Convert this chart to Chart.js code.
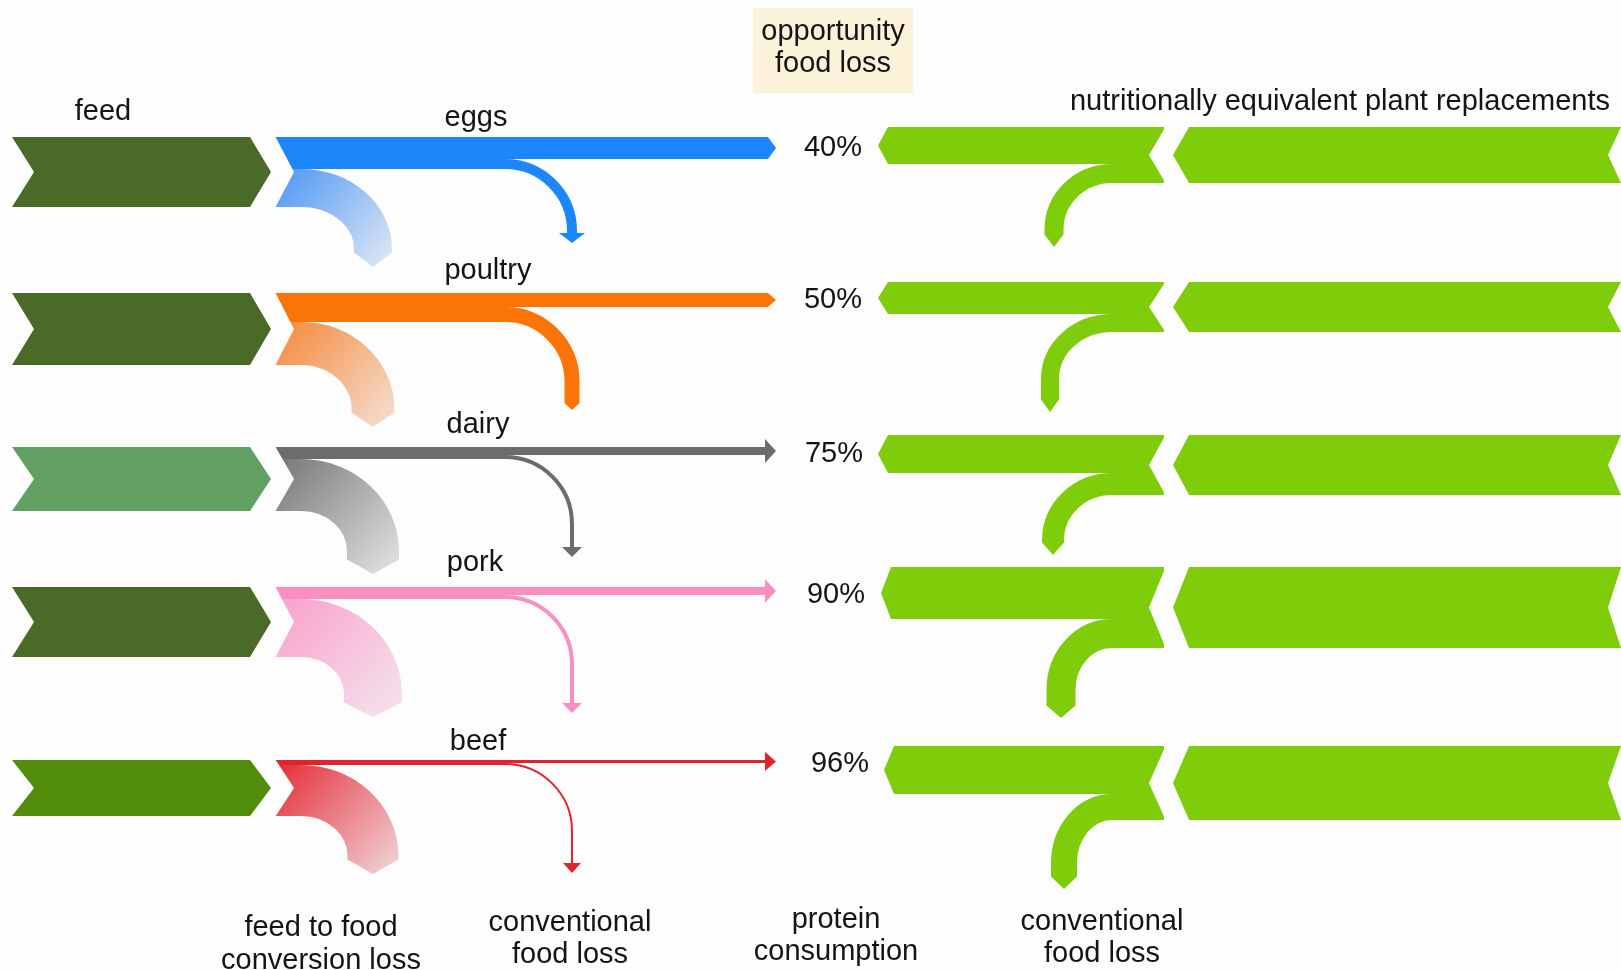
<!DOCTYPE html>
<html>
<head>
<meta charset="utf-8">
<title>Opportunity food loss</title>
<script src="https://cdn.jsdelivr.net/npm/chart.js@4.4.1/dist/chart.umd.min.js"></script>
<style>
  html, body { margin: 0; padding: 0; background: #fdfdfd; }
  #wrap { width: 1621px; height: 970px; position: relative; }
</style>
</head>
<body>
<div id="wrap"><canvas id="flowChart"></canvas></div>
<script>
// one row per animal product
const products = ['eggs', 'poultry', 'dairy', 'pork', 'beef'];
const opportunityLoss = [40, 50, 75, 90, 96]; // percent

// left side: feed splits into food, conventional food loss and conversion loss (flow widths)
const foodOut = [22, 14, 8, 8, 3];
const conventionalLoss = [10, 15, 4, 4, 2];
const conversionLoss = [38, 43, 52, 58, 51];

// right side: plant replacement splits into protein consumption and conventional loss
const plantConsumption = [37, 32, 38, 52, 48];
const plantLoss = [19, 18, 22, 29, 26];

const bottomLabels = [
  ['feed to food', 'conversion loss'],
  ['conventional', 'food loss'],
  ['protein', 'consumption'],
  ['conventional', 'food loss']
];

// layout, in diagram units (x 0..1621, y 0..970)
const layout = {
  leftTop: [137, 293, 447, 587, 760],
  rightTop: [127, 282, 435, 567, 746],
  labelX: [476, 488, 478, 475, 478],
  labelY: [118, 271, 425, 563, 742],
  pctX: [833, 833, 834, 836, 840],
  pctY: [148, 300, 454, 595, 764],
  lossEndY: [243, 410, 557, 713, 873],
  fanEndY: [253, 413, 560, 703, 860],
  plantLossX: [1054, 1050, 1053, 1061, 1064],
  plantLossEndY: [247, 412, 555, 718, 889],
  proteinTipX: [878, 878, 878, 881, 884],
  foodEnd: ['tip', 'tip', 'arrow', 'arrow', 'arrow'],
  lossEnd: ['arrow', 'tip', 'arrow', 'arrow', 'arrow'],
  bottomX: [321, 570, 836, 1102],
  bottomY: [[928, 961], [923, 955], [920, 952], [922, 954]]
};

const feedColors = ['#4a6b27', '#4a6b27', '#61a062', '#4a6b27', '#518c0b'];
const productColors = ['#1c87fb', '#fb7408', '#6c6c6c', '#f78fc3', '#e2222c'];
const fanColors = [
  ['#4a95f2', '#e2e9f5'], ['#f5883a', '#f4e0d2'], ['#767676', '#e4e4e4'],
  ['#f9a0cc', '#f4e4ec'], ['#e42d38', '#f0d6d9']
];
const plantGreen = '#7fcc0a';
const K = 0.5523;

const flowPlugin = {
  id: 'flows',
  afterDraw(chart) {
    const ctx = chart.ctx;
    const X = v => chart.scales.x.getPixelForValue(v);
    const Y = v => chart.scales.y.getPixelForValue(v);
    const W = t => Math.abs(Y(t) - Y(0));

    function poly(pts, fill) {
      ctx.beginPath();
      pts.forEach(([x, y], i) => i ? ctx.lineTo(X(x), Y(y)) : ctx.moveTo(X(x), Y(y)));
      ctx.closePath();
      ctx.fillStyle = fill;
      ctx.fill();
    }
    function erase(pts) {
      ctx.save();
      ctx.globalCompositeOperation = 'destination-out';
      poly(pts, '#000');
      ctx.restore();
    }
    function text(str, x, y) {
      ctx.fillText(str, X(x), Y(y));
    }

    ctx.save();
    ctx.lineCap = 'butt';
    ctx.lineJoin = 'round';

    products.forEach((name, i) => {
      // ---- left: feed -> food / losses ----
      const top = layout.leftTop[i];
      const tF = foodOut[i], tL = conventionalLoss[i], tC = conversionLoss[i];
      const h = tF + tL + tC;
      const mid = top + h / 2;
      const x0 = 275, xEnd = 776;
      const col = productColors[i];

      // food that reaches consumption
      if (layout.foodEnd[i] === 'tip') {
        poly([[x0, top], [xEnd - 8, top], [xEnd, top + tF / 2], [xEnd - 8, top + tF], [x0, top + tF]], col);
      } else {
        const c = top + tF / 2, hh = tF / 2 + 8;
        poly([[x0, top], [xEnd - 10, top], [xEnd - 10, top + tF], [x0, top + tF]], col);
        poly([[xEnd - 11, c - hh], [xEnd, c], [xEnd - 11, c + hh]], col);
      }

      // conventional food loss, bending down
      const lc = top + tF + tL / 2;
      const xt = 505, xv = 572, ry = 67;
      const endY = layout.lossEndY[i];
      const arrow = layout.lossEnd[i] === 'arrow';
      const headLen = arrow ? 10 : 7;
      ctx.beginPath();
      ctx.moveTo(X(x0), Y(lc));
      ctx.lineTo(X(xt), Y(lc));
      ctx.bezierCurveTo(X(xt + K * (xv - xt)), Y(lc), X(xv), Y(lc + ry - K * ry), X(xv), Y(lc + ry));
      ctx.lineTo(X(xv), Y(endY - headLen));
      ctx.lineWidth = W(tL);
      ctx.strokeStyle = col;
      ctx.stroke();
      const hh = arrow ? tL / 2 + 8 : tL / 2;
      poly([[xv - hh, endY - headLen], [xv, endY], [xv + hh, endY - headLen]], col);

      // feed to food conversion loss (gradient fan)
      const cc = top + tF + tL + tC / 2;
      const fx = 373, fEnd = layout.fanEndY[i];
      const fr = 72, fry = Math.min(66, fEnd - cc - 4);
      const grad = ctx.createLinearGradient(X(x0), Y(top + tF + tL), X(fx + tC / 2), Y(fEnd + 13));
      grad.addColorStop(0, fanColors[i][0]);
      grad.addColorStop(1, fanColors[i][1]);
      ctx.beginPath();
      ctx.moveTo(X(x0), Y(cc));
      ctx.lineTo(X(fx - fr), Y(cc));
      ctx.bezierCurveTo(X(fx - fr + K * fr), Y(cc), X(fx), Y(cc + fry - K * fry), X(fx), Y(cc + fry));
      ctx.lineTo(X(fx), Y(fEnd));
      ctx.lineWidth = W(tC);
      ctx.strokeStyle = grad;
      ctx.stroke();
      poly([[fx - tC / 2, fEnd - 0.5], [fx, fEnd + 14], [fx + tC / 2, fEnd - 0.5]], grad);

      // notch where the feed arrow enters
      erase([[x0 - 3, top - 1], [x0, top - 1], [x0 + 19, mid], [x0, top + h + 1], [x0 - 3, top + h + 1]]);

      // feed arrow
      poly([[12, top], [250, top], [271, mid], [250, top + h], [12, top + h], [34, mid]], feedColors[i]);

      // ---- right: plant replacements, flowing leftwards ----
      const rt = layout.rightTop[i];
      const tP = plantConsumption[i], tQ = plantLoss[i];
      const H = tP + tQ, rm = rt + H / 2;
      poly([[1189, rt], [1621, rt], [1608, rm], [1621, rt + H], [1189, rt + H], [1173, rm]], plantGreen);

      const tipX = layout.proteinTipX[i];
      poly([[tipX + 10, rt], [1164, rt], [1164, rt + tP], [tipX + 10, rt + tP], [tipX, rt + tP / 2]], plantGreen);

      const qc = rt + tP + tQ / 2;
      const qt = 1112, qx = layout.plantLossX[i], qry = 56, qEnd = layout.plantLossEndY[i];
      ctx.beginPath();
      ctx.moveTo(X(1164), Y(qc));
      ctx.lineTo(X(qt), Y(qc));
      ctx.bezierCurveTo(X(qt - K * (qt - qx)), Y(qc), X(qx), Y(qc + qry - K * qry), X(qx), Y(qc + qry));
      ctx.lineTo(X(qx), Y(qEnd - 12));
      ctx.lineWidth = W(tQ);
      ctx.strokeStyle = plantGreen;
      ctx.stroke();
      poly([[qx - tQ / 2, qEnd - 12.5], [qx, qEnd], [qx + tQ / 2, qEnd - 12.5]], plantGreen);

      erase([[1166, rt - 1], [1149, rm], [1166, rt + H + 1]]);
    });

    // ---- texts ----
    ctx.fillStyle = '#fcf2d9';
    ctx.fillRect(X(753), Y(8), X(913) - X(753), Y(93) - Y(8));

    ctx.font = '29px "Liberation Sans", Arial, sans-serif';
    ctx.fillStyle = '#141414';
    ctx.textAlign = 'center';
    ctx.textBaseline = 'middle';

    text('feed', 103, 112);
    products.forEach((name, i) => {
      text(name, layout.labelX[i], layout.labelY[i]);
      text(opportunityLoss[i] + '%', layout.pctX[i], layout.pctY[i]);
    });
    text('opportunity', 833, 32);
    text('food loss', 833, 64);
    text('nutritionally equivalent plant replacements', 1340, 102);
    bottomLabels.forEach((lines, j) => {
      lines.forEach((ln, k) => text(ln, layout.bottomX[j], layout.bottomY[j][k]));
    });

    ctx.restore();
  }
};

new Chart(document.getElementById('flowChart'), {
  type: 'scatter',
  data: { datasets: [] },
  options: {
    responsive: true,
    maintainAspectRatio: false,
    animation: false,
    layout: { padding: 0 },
    scales: {
      x: { type: 'linear', min: 0, max: 1621, display: false },
      y: { type: 'linear', min: 0, max: 970, reverse: true, display: false }
    },
    plugins: { legend: { display: false }, tooltip: { enabled: false } }
  },
  plugins: [flowPlugin]
});
</script>
</body>
</html>
